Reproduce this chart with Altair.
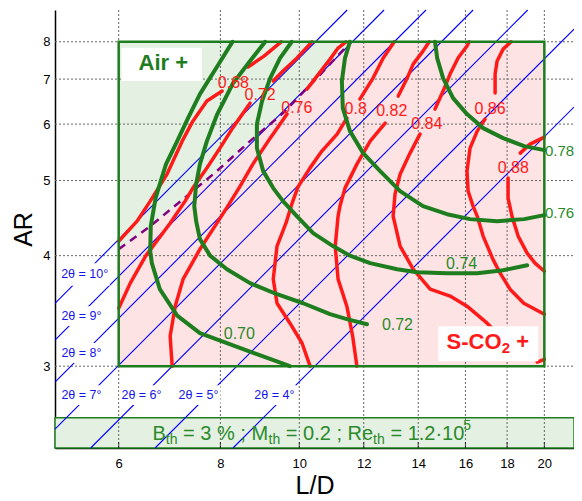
import altair as alt
import numpy as np
import pandas as pd

FONT = "Liberation Sans"
RED = "#ff1a1a"
GREEN = "#1e7d1e"
GREEN_TXT = "#2a8a2a"
PINK = "#fde3e3"
LGREEN = "#e4f1e2"
BLUE = "#0000ff"

# ---------------- axes ----------------
x_ticks = [6, 8, 10, 12, 14, 16, 18, 20]
y_ticks = [3, 4, 5, 6, 7, 8]
ld_range = [5.011, 21.75]
ar_range = [2.5, 9.0]

# ---------------- boxes ----------------
box_ld = [6.0, 20.0]
box_ar = [3.0, 8.0]
band_ld = [5.011, 21.75]
band_ar = [2.5, 2.666]
air_box_ld = [6.05, 7.59]
air_box_ar = [6.953, 7.828]
sco2_box_ld = [14.82, 19.66]
sco2_box_ar = [3.036, 3.311]

# ---------------- dashed Air / S-CO2 boundary ----------------
dash_ld = [6.0, 6.56, 7.20, 7.92, 8.70, 9.55, 10.51, 11.57]
dash_ar = [4.074, 4.355, 4.722, 5.15, 5.671, 6.225, 7.025, 8.0]

# ---------------- constant 2-theta lines (end points) ----------------
theta_deg = ["4", "5", "6", "7", "8", "9", "10"]
theta_ld0 = [8.29, 6.65, 5.543, 5.011, 5.011, 5.011, 5.011]
theta_ar0 = [2.5, 2.5, 2.5, 2.601, 2.889, 3.196, 3.512]
theta_ld1 = [21.75, 21.75, 19.08, 16.35, 14.31, 12.71, 11.45]
theta_ar1 = [6.354, 8.381, 9.0, 9.0, 9.0, 9.0, 9.0]

theta_lbl = ["2θ = 10°", "2θ = 9°", "2θ = 8°", "2θ = 7°", "2θ = 6°", "2θ = 5°", "2θ = 4°"]
theta_lbl_ld = [5.45, 5.40, 5.40, 5.40, 6.40, 7.52, 9.32]
theta_lbl_ar = [3.796, 3.397, 3.097, 2.805, 2.805, 2.805, 2.805]

# ---------------- red contours (S-CO2) ----------------
r068a_ld = [6.00, 6.32, 6.56, 6.88, 7.18, 7.40, 7.70, 8.04]
r068a_ar = [4.168, 4.419, 4.693, 5.102, 5.671, 6.059, 6.486, 6.714]
r068b_ld = [8.65, 9.05, 9.50]
r068b_ar = [7.305, 7.596, 8.0]
r072a_ld = [9.29, 9.55, 9.93, 10.37]
r072a_ar = [6.953, 7.20, 7.54, 8.0]
r072b_ld = [8.70, 8.28, 7.99, 7.70, 7.40, 7.24, 6.94, 6.48, 6.20, 6.00]
r072b_ar = [6.44, 5.92, 5.544, 5.20, 4.884, 4.693, 4.393, 4.0, 3.707, 3.468]
r076a_ld = [10.22, 10.91, 11.16, 11.41]
r076a_ar = [6.76, 7.514, 7.82, 8.0]
r076b_ld = [9.66, 9.21, 8.77, 8.46, 8.17, 7.95, 7.55, 7.20, 7.04, 6.94, 6.98]
r076b_ar = [6.205, 5.727, 5.265, 4.914, 4.623, 4.419, 4.074, 3.748, 3.486, 3.228, 3.0]
r080a_ld = [11.87, 12.32, 12.68, 13.08]
r080a_ar = [6.531, 7.025, 7.542, 8.0]
r080b_ld = [11.44, 11.13, 10.66, 10.31, 9.96, 9.79, 9.63, 9.39, 9.29, 9.39, 9.74, 10.08, 10.31]
r080b_ar = [6.121, 5.803, 5.49, 5.203, 4.899, 4.65, 4.393, 4.11, 3.748, 3.513, 3.336, 3.172, 3.0]
r082a_ld = [13.23, 13.57, 13.80, 14.19, 14.44]
r082a_ar = [6.598, 7.025, 7.381, 7.734, 8.0]
r082b_ld = [12.75, 12.22, 11.77, 11.38, 11.22, 11.16, 11.07, 11.16, 11.44, 11.63, 11.77]
r082b_ar = [6.02, 5.671, 5.265, 4.884, 4.623, 4.486, 4.11, 3.748, 3.486, 3.228, 3.0]
r084a_ld = [14.68, 15.02, 15.32, 15.67, 16.07, 16.17]
r084a_ar = [6.311, 6.714, 7.125, 7.542, 7.876, 8.0]
r084b_ld = [14.07, 13.68, 13.30, 13.11, 13.04, 13.30, 13.80, 14.48, 15.32, 16.07, 17.01, 17.65, 18.68]
r084b_ar = [5.803, 5.455, 5.10, 4.794, 4.486, 4.11, 3.851, 3.647, 3.58, 3.486, 3.336, 3.228, 3.126]
r086a_ld = [17.40, 17.40, 17.50, 17.80, 18.20]
r086a_ar = [6.667, 7.125, 7.462, 7.79, 8.0]
r086b_ld = [16.91, 16.54, 16.21, 16.07, 16.12, 16.35, 16.54, 16.82, 17.29, 17.65, 18.15, 18.87, 20.0]
r086b_ar = [6.101, 5.861, 5.544, 5.15, 4.839, 4.623, 4.486, 4.23, 3.961, 3.809, 3.647, 3.513, 3.414]
r088a_ld = [18.68, 19.21, 20.0]
r088a_ar = [5.455, 5.617, 5.747]
r088b_ld = [18.05, 18.05, 18.25, 18.57, 19.05, 19.48, 20.0]
r088b_ar = [5.038, 4.736, 4.486, 4.23, 4.028, 3.917, 3.83]
r090_ld = [19.6, 20.0]
r090_ar = [3.03, 3.05]

red_lbl = ["0.68", "0.72", "0.76", "0.8", "0.82", "0.84", "0.86", "0.88"]
red_lbl_ld = [8.30, 8.95, 9.93, 11.73, 12.99, 14.34, 17.15, 18.32]
red_lbl_ar = [6.914, 6.62, 6.339, 6.304, 6.268, 5.994, 6.304, 5.204]

# ---------------- green contours (Air) ----------------
g070_ld = [8.28, 7.92, 7.55, 7.30, 7.08, 6.86, 6.74, 6.66, 6.57, 6.56, 6.59, 6.74, 7.08, 7.55, 8.15, 8.87, 9.74]
g070_ar = [8.0, 7.305, 6.644, 6.121, 5.671, 5.265, 4.944, 4.736, 4.355, 4.051, 3.917, 3.647, 3.401, 3.253, 3.172, 3.088, 3.0]
g072_ld = [9.08, 8.70, 8.28, 7.93, 7.70, 7.55, 7.47, 7.43, 7.47, 7.55, 7.77, 8.15, 8.70, 9.39, 10.11, 10.91, 11.44, 12.11]
g072_ar = [8.0, 7.462, 6.879, 6.205, 5.671, 5.265, 4.944, 4.623, 4.419, 4.193, 4.0, 3.851, 3.707, 3.598, 3.513, 3.414, 3.371, 3.327]
g074_ld = [9.79, 9.47, 9.21, 9.00, 8.87, 8.87, 9.03, 9.29, 9.55, 9.93, 10.40, 11.0, 11.54, 12.22, 13.19, 13.95, 15.19, 16.54, 17.80, 19.05]
g074_ar = [8.0, 7.542, 7.025, 6.486, 6.0, 5.544, 5.15, 4.884, 4.693, 4.486, 4.267, 4.11, 4.0, 3.917, 3.851, 3.82, 3.809, 3.809, 3.84, 3.894]
g076_ld = [11.54, 11.38, 11.28, 11.31, 11.54, 11.98, 12.57, 13.30, 14.19, 15.19, 16.21, 17.50, 18.89, 20.0]
g076_ar = [8.0, 7.542, 6.953, 6.332, 5.861, 5.455, 5.15, 4.839, 4.623, 4.512, 4.446, 4.419, 4.446, 4.499]
g078_ld = [14.68, 14.77, 15.02, 15.45, 16.07, 16.82, 17.80, 18.89, 20.0]
g078_ar = [8.0, 7.542, 7.025, 6.552, 6.205, 5.92, 5.727, 5.58, 5.508]

green_lbl = ["0.70", "0.72", "0.74", "0.76", "0.78"]
green_lbl_ld = [8.44, 13.20, 15.83, 20.88, 20.88]
green_lbl_ar = [3.242, 3.323, 3.903, 4.530, 5.49]

# ---------------- annotations ----------------
air_txt = ["Air +"]
air_ld = [6.807]
air_ar = [7.419]
sco2_main_txt = ["S-CO", "+"]
sco2_main_ld = [15.17, 18.47]
sco2_main_ar = [3.124, 3.124]
sco2_sub_txt = ["2"]
sco2_sub_ld = [17.73]
sco2_sub_ar = [3.096]

band_main_txt = ["B", "= 3 % ; M", "= 0.2 ; Re", "= 1.2·10"]
band_main_ld = [6.602, 7.199, 9.626, 12.94]
band_main_ar = [2.541, 2.541, 2.541, 2.541]
band_sub_txt = ["th", "th", "th", "5"]
band_sub_ld = [6.855, 9.166, 12.32, 15.90]
band_sub_ar = [2.520, 2.520, 2.520, 2.596]

# ======================================================================
T = "log(sqrt(datum.{}) - 1)"


def tt(v):
    return float(np.log(np.sqrt(v) - 1.0))


xs = alt.Scale(type="log", domain=ld_range, nice=False)
ys = alt.Scale(domain=[tt(ar_range[0]), tt(ar_range[1])], nice=False, zero=False)

x_axis = alt.Axis(values=x_ticks, format="d", title="L/D", titleFont=FONT, titleFontSize=25,
                  titleFontWeight="normal", titleColor="black", labelFont=FONT, labelFontSize=13,
                  labelColor="black", domainColor="black", domainWidth=1.5, ticks=False, tickSize=0,
                  labelPadding=9, titleY=45, titleBaseline="alphabetic", grid=False, labelFlush=False)
y_axis = alt.Axis(values=[tt(v) for v in y_ticks],
                  labelExpr="format(pow(exp(datum.value) + 1, 2), '.0f')",
                  title="AR", titleFont=FONT, titleFontSize=25, titleFontWeight="normal",
                  titleColor="black", labelFont=FONT, labelFontSize=13, labelColor="black",
                  domainColor="black", domainWidth=1.5, ticks=False, tickSize=0,
                  labelPadding=5, titlePadding=6, grid=False)


def X(f="ld"):
    return alt.X(f"{f}:Q", scale=xs, axis=x_axis)


def Y(f="t"):
    return alt.Y(f"{f}:Q", scale=ys, axis=y_axis)


def rect_df(ld, ar):
    return pd.DataFrame({"ld0": [ld[0]], "ld1": [ld[1]], "ar0": [ar[0]], "ar1": [ar[1]]})


def rect_layer(ld, ar, **mk):
    return (alt.Chart(rect_df(ld, ar))
            .transform_calculate(t0=T.format("ar0"), t1=T.format("ar1"))
            .mark_rect(**mk)
            .encode(x=X("ld0"), x2="ld1:Q", y=Y("t0"), y2="t1:Q"))


def lines_df(segs):
    rows = []
    for name, lds, ars in segs:
        for i, (a, b) in enumerate(zip(lds, ars)):
            rows.append({"seg": name, "i": i, "ld": a, "ar": b})
    return pd.DataFrame(rows)


def text_layer(txt, lds, ars, **mk):
    df = pd.DataFrame({"txt": txt, "ld": lds, "ar": ars})
    return (alt.Chart(df).transform_calculate(t=T.format("ar"))
            .mark_text(font=FONT, **mk)
            .encode(x=X(), y=Y(), text="txt:N"))


layers = []

# pink box fill
layers.append(rect_layer(box_ld, box_ar, fill=PINK))

# green (Air) region above dashed boundary
dash_df = pd.DataFrame({"ld": dash_ld, "ar": dash_ar, "artop": [box_ar[1]] * len(dash_ld)})
layers.append(alt.Chart(dash_df)
              .transform_calculate(t=T.format("ar"), ttop=T.format("artop"))
              .mark_area(color=LGREEN, opacity=1)
              .encode(x=X(), y=Y(), y2="ttop:Q"))

# bottom band
layers.append(rect_layer(band_ld, band_ar, fill=LGREEN, stroke=GREEN, strokeWidth=1.5))

# grid lines
vg = pd.DataFrame({"ld": x_ticks, "ar0": ar_range[0], "ar1": ar_range[1]})
layers.append(alt.Chart(vg).transform_calculate(t0=T.format("ar0"), t1=T.format("ar1"))
              .mark_rule(color="#666666", strokeDash=[2, 2], strokeWidth=1)
              .encode(x=X("ld"), y=Y("t0"), y2="t1:Q"))
hg = pd.DataFrame({"ar": y_ticks, "ld0": ld_range[0], "ld1": ld_range[1]})
layers.append(alt.Chart(hg).transform_calculate(t=T.format("ar"))
              .mark_rule(color="#666666", strokeDash=[2, 2], strokeWidth=1)
              .encode(x=X("ld0"), x2="ld1:Q", y=Y("t")))

# blue 2-theta lines
theta_segs = [(d, [a, b], [c, e]) for d, a, b, c, e in
              zip(theta_deg, theta_ld0, theta_ld1, theta_ar0, theta_ar1)]
layers.append(alt.Chart(lines_df(theta_segs)).transform_calculate(t=T.format("ar"))
              .mark_line(color=BLUE, strokeWidth=1.1)
              .encode(x=X(), y=Y(), detail="seg:N", order="i:Q"))

# label backgrounds + labels for 2-theta
BOX = "M-1,-0.45H1V0.45H-1Z"
lb_wide = pd.DataFrame({"ld": theta_lbl_ld[:1], "ar": theta_lbl_ar[:1]})
lb_narrow = pd.DataFrame({"ld": theta_lbl_ld[1:], "ar": theta_lbl_ar[1:]})
for dfb, w in ((lb_wide, 50), (lb_narrow, 44)):
    layers.append(alt.Chart(dfb).transform_calculate(t=T.format("ar"))
                  .mark_point(shape=BOX, filled=True, color="white", opacity=1, size=w * w, strokeWidth=0)
                  .encode(x=X(), y=Y()))
layers.append(text_layer(theta_lbl, theta_lbl_ld, theta_lbl_ar, fontSize=12.5, color="#1515e8",
                         align="center", baseline="middle"))

# purple dashed boundary
layers.append(alt.Chart(dash_df).transform_calculate(t=T.format("ar"))
              .mark_line(color="#800080", strokeWidth=2.5, strokeDash=[8, 6])
              .encode(x=X(), y=Y(), order="ld:Q"))

# red contours
red_segs = [
    ("068a", r068a_ld, r068a_ar), ("068b", r068b_ld, r068b_ar),
    ("072a", r072a_ld, r072a_ar), ("072b", r072b_ld, r072b_ar),
    ("076a", r076a_ld, r076a_ar), ("076b", r076b_ld, r076b_ar),
    ("080a", r080a_ld, r080a_ar), ("080b", r080b_ld, r080b_ar),
    ("082a", r082a_ld, r082a_ar), ("082b", r082b_ld, r082b_ar),
    ("084a", r084a_ld, r084a_ar), ("084b", r084b_ld, r084b_ar),
    ("086a", r086a_ld, r086a_ar), ("086b", r086b_ld, r086b_ar),
    ("088a", r088a_ld, r088a_ar), ("088b", r088b_ld, r088b_ar),
    ("090", r090_ld, r090_ar),
]
layers.append(alt.Chart(lines_df(red_segs)).transform_calculate(t=T.format("ar"))
              .mark_line(color=RED, strokeWidth=3.5, strokeCap="round", strokeJoin="round")
              .encode(x=X(), y=Y(), detail="seg:N", order="i:Q"))

# green contours
green_segs = [("070", g070_ld, g070_ar), ("072", g072_ld, g072_ar), ("074", g074_ld, g074_ar),
              ("076", g076_ld, g076_ar), ("078", g078_ld, g078_ar)]
layers.append(alt.Chart(lines_df(green_segs)).transform_calculate(t=T.format("ar"))
              .mark_line(color=GREEN, strokeWidth=4, strokeCap="round", strokeJoin="round")
              .encode(x=X(), y=Y(), detail="seg:N", order="i:Q"))

# box outline
layers.append(rect_layer(box_ld, box_ar, fill="white", fillOpacity=0, stroke=GREEN, strokeWidth=2.5))

# white label boxes
layers.append(rect_layer(air_box_ld, air_box_ar, fill="white"))
layers.append(rect_layer(sco2_box_ld, sco2_box_ar, fill="white"))

# texts
layers.append(text_layer(air_txt, air_ld, air_ar, fontSize=22, fontWeight="bold", color=GREEN,
                         align="center", baseline="middle"))
layers.append(text_layer(sco2_main_txt, sco2_main_ld, sco2_main_ar, fontSize=22, fontWeight="bold",
                         color=RED, align="left", baseline="alphabetic"))
layers.append(text_layer(sco2_sub_txt, sco2_sub_ld, sco2_sub_ar, fontSize=15, fontWeight="bold",
                         color=RED, align="left", baseline="alphabetic"))
layers.append(text_layer(red_lbl, red_lbl_ld, red_lbl_ar, fontSize=16, color=RED,
                         align="center", baseline="middle"))
layers.append(text_layer(green_lbl[:3], green_lbl_ld[:3], green_lbl_ar[:3], fontSize=16,
                         color=GREEN_TXT, align="center", baseline="middle"))
layers.append(text_layer(green_lbl[3:], green_lbl_ld[3:], green_lbl_ar[3:], fontSize=15,
                         color=GREEN_TXT, align="center", baseline="middle"))
layers.append(text_layer(band_main_txt, band_main_ld, band_main_ar, fontSize=20, color=GREEN_TXT,
                         align="left", baseline="alphabetic"))
layers.append(text_layer(band_sub_txt, band_sub_ld, band_sub_ar, fontSize=14, color=GREEN_TXT,
                         align="left", baseline="alphabetic"))

# small inward ticks on the bottom axis
tk = pd.DataFrame({"ld": x_ticks, "ar": ar_range[0]})
layers.append(alt.Chart(tk).transform_calculate(t=T.format("ar"))
              .mark_tick(color="black", thickness=1, size=6, yOffset=-3, orient="vertical")
              .encode(x=X(), y=Y()))

chart = (alt.layer(*layers)
         .properties(width=519, height=438,
                     autosize=alt.AutoSizeParams(type="none"),
                     padding={"left": 47, "top": 2, "right": 0, "bottom": 52})
         .configure_view(strokeWidth=0))

chart.save("out.html", embed_options={"renderer": "svg", "actions": False})
